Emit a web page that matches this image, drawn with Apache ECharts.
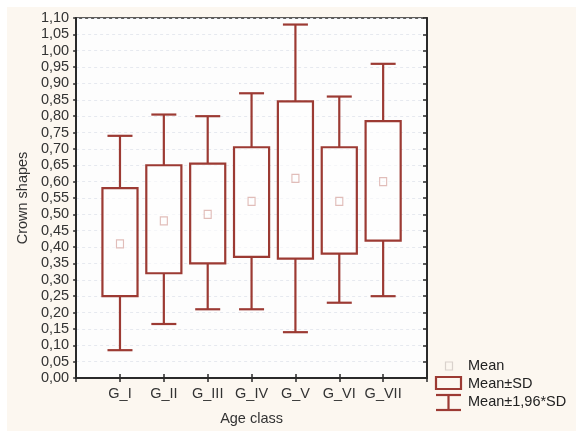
<!DOCTYPE html>
<html>
<head>
<meta charset="utf-8">
<script src="https://cdn.jsdelivr.net/npm/echarts@6/dist/echarts.min.js"></script>
<style>
html,body{margin:0;padding:0;background:#ffffff;width:576px;height:431px;overflow:hidden;}
#main{position:absolute;left:7px;top:7px;width:569px;height:424px;background:#fcf7f0;}
</style>
</head>
<body>
<div id="main"></div>
<script>
const categories = ['G_I','G_II','G_III','G_IV','G_V','G_VI','G_VII'];
const means  = [0.41, 0.48, 0.50, 0.54, 0.61, 0.54, 0.60];
const sdLow  = [0.25, 0.32, 0.35, 0.37, 0.365, 0.38, 0.42];
const sdHigh = [0.58, 0.65, 0.655, 0.705, 0.845, 0.705, 0.785];
const ciLow  = [0.085, 0.165, 0.21, 0.21, 0.14, 0.23, 0.25];
const ciHigh = [0.74, 0.805, 0.80, 0.87, 1.08, 0.86, 0.96];
const yMin = 0, yMax = 1.10, yStep = 0.05;

const axisCats = [''].concat(categories, ['']);
const RED = '#9c3a33';
const FONT = 'Liberation Sans, Arial, sans-serif';
const FS = 14.5;

const boxData = categories.map((c, i) => [i + 1, sdLow[i], sdHigh[i], ciLow[i], ciHigh[i]]);
const meanData = categories.map((c, i) => [i + 1, means[i]]);

const chart = echarts.init(document.getElementById('main'), null, {renderer: 'canvas'});
const fmt = v => v.toFixed(2).replace('.', ',');

chart.setOption({
  backgroundColor: 'transparent',
  animation: false,
  textStyle: {fontFamily: FONT},
  grid: {left: 68, top: 11, width: 352, height: 362, show: true, backgroundColor: '#fdfdfd', borderColor: '#2a2a2a', borderWidth: 1.5},
  xAxis: [{
    type: 'category', data: axisCats, boundaryGap: false, position: 'bottom',
    axisLine: {show: true, lineStyle: {color: '#2a2a2a', width: 2}},
    axisTick: {show: true, inside: true, length: 4, lineStyle: {color: '#2a2a2a', width: 1.5}},
    axisLabel: {show: true, color: '#333', fontSize: FS, fontFamily: FONT, margin: 8, interval: 0},
    splitLine: {show: false},
    name: 'Age class', nameLocation: 'middle', nameGap: 33,
    nameTextStyle: {color: '#333', fontSize: FS, fontFamily: FONT}
  }, {
    type: 'category', data: axisCats, boundaryGap: false, position: 'top',
    axisLine: {show: true, lineStyle: {color: '#2a2a2a', width: 2}},
    axisTick: {show: true, inside: true, length: 4, lineStyle: {color: '#2a2a2a', width: 1.5}},
    axisLabel: {show: false}, splitLine: {show: false}
  }],
  yAxis: [{
    type: 'value', min: yMin, max: yMax, interval: yStep, position: 'left',
    axisLine: {show: true, lineStyle: {color: '#2a2a2a', width: 2}},
    axisTick: {show: true, inside: false, length: 3, lineStyle: {color: '#2a2a2a', width: 1.5}},
    axisLabel: {color: '#333', fontSize: FS, fontFamily: FONT, margin: 7, formatter: fmt},
    splitLine: {show: true, lineStyle: {color: '#e6e9ef', type: [3, 3], width: 1}},
    name: 'Crown shapes', nameLocation: 'middle', nameGap: 45, nameRotate: 90,
    nameTextStyle: {color: '#333', fontSize: FS, fontFamily: FONT}
  }, {
    type: 'value', min: yMin, max: yMax, interval: yStep, position: 'right',
    axisLine: {show: true, lineStyle: {color: '#2a2a2a', width: 2}},
    axisTick: {show: true, inside: true, length: 4, lineStyle: {color: '#2a2a2a', width: 1.5}},
    axisLabel: {show: false}, splitLine: {show: false}
  }],
  series: [{
    type: 'custom', name: 'Mean±SD',
    xAxisIndex: 0, yAxisIndex: 0,
    data: boxData,
    renderItem: function (params, api) {
      const x = api.value(0);
      const pLo = api.coord([x, api.value(1)]);
      const pHi = api.coord([x, api.value(2)]);
      const pWl = api.coord([x, api.value(3)]);
      const pWh = api.coord([x, api.value(4)]);
      const band = api.size([1, 0])[0];
      const bw = band * 0.8, cw = band * 0.57;
      const st = {stroke: RED, lineWidth: 2.2, fill: null};
      return {
        type: 'group',
        children: [
          {type: 'line', shape: {x1: pWh[0], y1: pWh[1], x2: pHi[0], y2: pHi[1]}, style: st},
          {type: 'line', shape: {x1: pWh[0] - cw / 2, y1: pWh[1], x2: pWh[0] + cw / 2, y2: pWh[1]}, style: st},
          {type: 'line', shape: {x1: pWl[0], y1: pWl[1], x2: pLo[0], y2: pLo[1]}, style: st},
          {type: 'line', shape: {x1: pWl[0] - cw / 2, y1: pWl[1], x2: pWl[0] + cw / 2, y2: pWl[1]}, style: st},
          {type: 'rect', shape: {x: pHi[0] - bw / 2, y: pHi[1], width: bw, height: pLo[1] - pHi[1]}, style: {stroke: RED, lineWidth: 2.2, fill: 'rgba(255,255,255,0.6)'}}
        ]
      };
    }
  }, {
    type: 'scatter', name: 'Mean',
    xAxisIndex: 0, yAxisIndex: 0,
    data: meanData,
    symbol: 'rect', symbolSize: [7, 8],
    itemStyle: {color: 'rgba(0,0,0,0)', borderColor: '#d9aca7', borderWidth: 1.2},
    z: 5
  }],
  graphic: [
    {type: 'rect', shape: {x: 438.5, y: 355, width: 7, height: 8}, style: {fill: null, stroke: '#d9d2cc', lineWidth: 1.2}},
    {type: 'text', left: 461, top: 351, style: {text: 'Mean', fill: '#222', font: FS + 'px ' + FONT}},
    {type: 'rect', shape: {x: 429, y: 370, width: 25, height: 12}, style: {fill: null, stroke: RED, lineWidth: 2.2}},
    {type: 'text', left: 461, top: 369, style: {text: 'Mean±SD', fill: '#222', font: FS + 'px ' + FONT}},
    {type: 'line', shape: {x1: 429, y1: 388, x2: 454, y2: 388}, style: {stroke: RED, lineWidth: 2.2}},
    {type: 'line', shape: {x1: 441.5, y1: 388, x2: 441.5, y2: 403}, style: {stroke: RED, lineWidth: 2.2}},
    {type: 'line', shape: {x1: 429, y1: 403, x2: 454, y2: 403}, style: {stroke: RED, lineWidth: 2.2}},
    {type: 'text', left: 461, top: 387, style: {text: 'Mean±1,96*SD', fill: '#222', font: FS + 'px ' + FONT}}
  ]
});
</script>
</body>
</html>
